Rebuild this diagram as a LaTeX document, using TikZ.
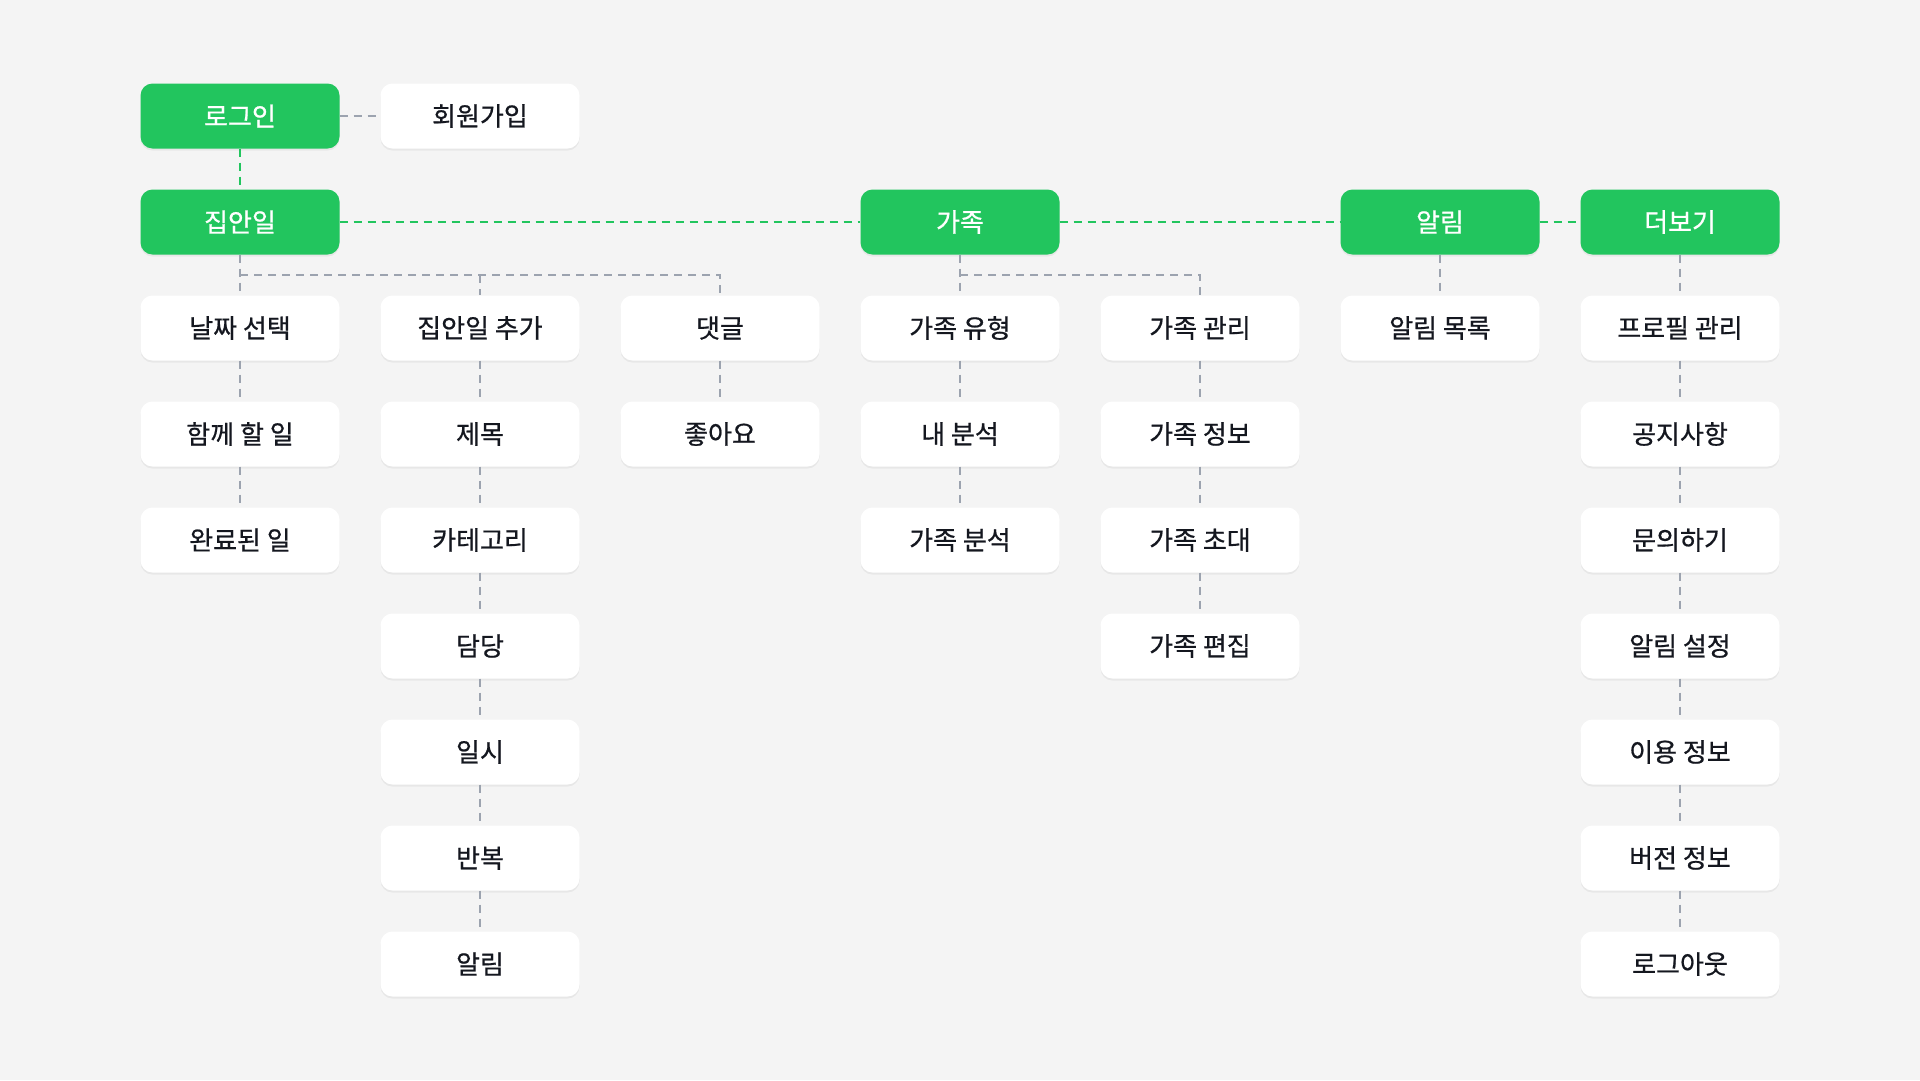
\documentclass[tikz,border=0pt]{standalone}
\usepackage{fontspec}
\setmainfont{Noto Sans CJK KR}
\newfontfamily\kfont{Noto Sans CJK KR}[FakeBold=0.7]
\usetikzlibrary{shadows,calc}
\definecolor{bgc}{HTML}{F4F4F4}
\definecolor{grn}{HTML}{22C55E}
\definecolor{lnc}{HTML}{9CA3AF}
\definecolor{txt}{HTML}{14171F}
\tikzset{
  box/.style={rounded corners=12pt, minimum width=199pt, minimum height=65pt, inner sep=0pt,
    font=\kfont\fontsize{26}{30}\selectfont, drop shadow={shadow xshift=0pt, shadow yshift=-2pt, opacity=0.05, fill=black}},
  mainbox/.style={box, fill=grn, text=white},
  subbox/.style={box, fill=white, text=txt},
  gline/.style={draw=grn, line width=1.6pt, dash pattern=on 8pt off 6pt},
  sline/.style={draw=lnc, line width=1.3pt, dash pattern=on 8pt off 6pt},
}
\begin{document}
\begin{tikzpicture}[x=1pt,y=-1pt]
\useasboundingbox[fill=bgc] (0,0) rectangle (1920,1080);
% row 0
\node[mainbox] (login) at (240,116) {로그인};
\node[subbox] (signup) at (480,116) {회원가입};
% row 1
\node[mainbox] (chore) at (240,222) {집안일};
\node[mainbox] (family) at (960,222) {가족};
\node[mainbox] (noti) at (1440,222) {알림};
\node[mainbox] (more) at (1680,222) {더보기};
% column 1
\node[subbox] (c1a) at (240,328) {날짜 선택};
\node[subbox] (c1b) at (240,434) {함께 할 일};
\node[subbox] (c1c) at (240,540) {완료된 일};
% column 2
\node[subbox] (c2a) at (480,328) {집안일 추가};
\node[subbox] (c2b) at (480,434) {제목};
\node[subbox] (c2c) at (480,540) {카테고리};
\node[subbox] (c2d) at (480,646) {담당};
\node[subbox] (c2e) at (480,752) {일시};
\node[subbox] (c2f) at (480,858) {반복};
\node[subbox] (c2g) at (480,964) {알림};
% column 3
\node[subbox] (c3a) at (720,328) {댓글};
\node[subbox] (c3b) at (720,434) {좋아요};
% column 4
\node[subbox] (c4a) at (960,328) {가족 유형};
\node[subbox] (c4b) at (960,434) {내 분석};
\node[subbox] (c4c) at (960,540) {가족 분석};
% column 5
\node[subbox] (c5a) at (1200,328) {가족 관리};
\node[subbox] (c5b) at (1200,434) {가족 정보};
\node[subbox] (c5c) at (1200,540) {가족 초대};
\node[subbox] (c5d) at (1200,646) {가족 편집};
% column 6
\node[subbox] (c6a) at (1440,328) {알림 목록};
% column 7
\node[subbox] (c7a) at (1680,328) {프로필 관리};
\node[subbox] (c7b) at (1680,434) {공지사항};
\node[subbox] (c7c) at (1680,540) {문의하기};
\node[subbox] (c7d) at (1680,646) {알림 설정};
\node[subbox] (c7e) at (1680,752) {이용 정보};
\node[subbox] (c7f) at (1680,858) {버전 정보};
\node[subbox] (c7g) at (1680,964) {로그아웃};

% main green connectors
\draw[gline] (login.south) -- (chore.north);
\draw[gline] (chore.east) -- (family.west);
\draw[gline] (family.east) -- (noti.west);
\draw[gline] (noti.east) -- (more.west);
\draw[sline] (login.east) -- (signup.west);

% chore branch
\coordinate (b1) at ($(chore.south)!0.5!(c1a.north)$);
\draw[sline] (chore.south) -- (c1a.north);
\draw[sline] (b1) -| (c3a.north);
\draw[sline] (b1 -| c2a.north) -- (c2a.north);
\draw[sline] (c1a.south) -- (c1b.north);
\draw[sline] (c1b.south) -- (c1c.north);
\draw[sline] (c2a.south) -- (c2b.north);
\draw[sline] (c2b.south) -- (c2c.north);
\draw[sline] (c2c.south) -- (c2d.north);
\draw[sline] (c2d.south) -- (c2e.north);
\draw[sline] (c2e.south) -- (c2f.north);
\draw[sline] (c2f.south) -- (c2g.north);
\draw[sline] (c3a.south) -- (c3b.north);

% family branch
\coordinate (b2) at ($(family.south)!0.5!(c4a.north)$);
\draw[sline] (family.south) -- (c4a.north);
\draw[sline] (b2) -| (c5a.north);
\draw[sline] (c4a.south) -- (c4b.north);
\draw[sline] (c4b.south) -- (c4c.north);
\draw[sline] (c5a.south) -- (c5b.north);
\draw[sline] (c5b.south) -- (c5c.north);
\draw[sline] (c5c.south) -- (c5d.north);

% noti
\draw[sline] (noti.south) -- (c6a.north);

% more
\draw[sline] (more.south) -- (c7a.north);
\draw[sline] (c7a.south) -- (c7b.north);
\draw[sline] (c7b.south) -- (c7c.north);
\draw[sline] (c7c.south) -- (c7d.north);
\draw[sline] (c7d.south) -- (c7e.north);
\draw[sline] (c7e.south) -- (c7f.north);
\draw[sline] (c7f.south) -- (c7g.north);
\end{tikzpicture}
\end{document}
